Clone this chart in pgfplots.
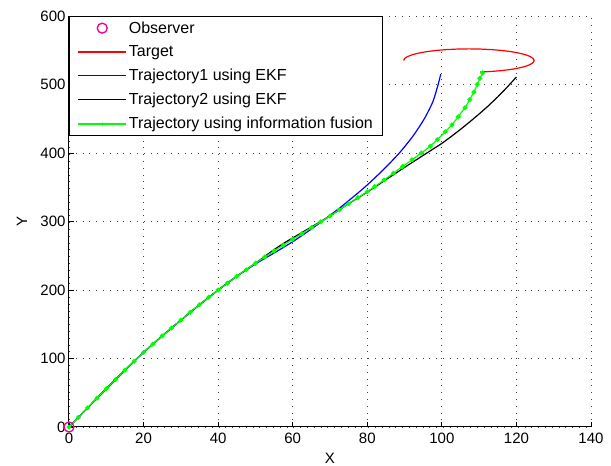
\documentclass[border=0pt]{standalone}
\usepackage{fontspec}
\setmainfont{Liberation Sans}
\usepackage{pgfplots}
\pgfplotsset{compat=1.18}

\begin{document}
\begin{tikzpicture}
\useasboundingbox (-69pt,-39pt) rectangle (542pt,427pt);
\begin{axis}[
    scale only axis,
    width=522pt, height=411pt,
    at={(0,0)}, anchor=south west,
    xmin=0, xmax=140, ymin=0, ymax=600,
    xtick={0,20,...,140}, ytick={0,100,...,600},
    axis x line=bottom, axis y line=left,
    axis line style={-, line width=1pt},
    tick align=inside, major tick length=5pt,
    tick style={black, line width=0.8pt},
    grid=major,
    major grid style={black!75, line width=0.8pt, dash pattern=on 0.8pt off 6pt},
    tick label style={font=\fontsize{15}{18}\selectfont},
    /pgf/number format/assume math mode=true,
    xticklabel style={yshift=-2.5pt},
    label style={font=\fontsize{15}{18}\selectfont},
    xlabel=X, ylabel=Y,
    xlabel style={at={(axis description cs:0.5,0)}, anchor=center, yshift=-31pt},
    ylabel style={at={(axis description cs:-0.09,0.5)}, anchor=center},
    clip=false,
    legend cell align=left,
    legend style={at={(0,1)}, anchor=north west, line width=1.2pt,
        font=\fontsize{16}{19}\selectfont, inner xsep=8pt, inner ysep=3pt,
        row sep=7pt},
]
% Observer
\addplot[only marks, mark=o, mark size=5pt, color=magenta, mark options={draw=magenta, line width=1.3pt},
  legend image code/.code={\path[draw=none] (0pt,0pt) -- (48pt,0pt); \draw[draw=magenta, line width=1.3pt] (24pt,0pt) circle (5pt);}]
  coordinates {(0,0)};
\addlegendentry{Observer}
% Target
\addplot[color=red, line width=1.2pt,
  legend image code/.code={\draw[draw=red, line width=1.3pt] (0pt,0pt) -- (48pt,0pt);}] coordinates {
 (110.29,518.26) (113.24,519.03) (116.00,520.28) (118.50,521.98) (120.66,524.07)
 (122.41,526.50) (123.69,529.19) (124.48,532.05) (124.75,535.00) (124.48,537.95)
 (123.69,540.81) (122.41,543.50) (120.66,545.93) (118.50,548.02) (116.00,549.72)
 (113.24,550.97) (110.29,551.74) (107.25,552.00) (104.21,551.74) (101.26,550.97)
 (98.50,549.72) (96.00,548.02) (93.84,545.93) (92.09,543.50) (90.81,540.81)
 (90.02,537.95) (89.75,535.00)};
\addlegendentry{Target}
% Trajectory1 (EKF)
\addplot[color=blue, line width=1.2pt, smooth, tension=0.4,
  legend image code/.code={\draw[draw=blue, line width=1.3pt] (0pt,0pt) -- (48pt,0pt);}] coordinates {
 (0,0) (5,28) (10,56) (15,83) (20,109) (25,133) (30,156) (35,178.5) (40,200)
 (45,220) (50,238) (55,254) (60,270.5) (65,289) (70,309)
 (73.8,325) (79.3,350) (84.2,375) (88.6,400) (92.3,425) (95.3,450)
 (97.6,475) (99.0,500) (99.7,515)};
\addlegendentry{Trajectory1 using EKF}
% Trajectory2 (EKF)
\addplot[color=black, line width=1.2pt,
  legend image code/.code={\draw[draw=black, line width=1.3pt] (0pt,0pt) -- (48pt,0pt);}] coordinates {
 (0,0) (5,28) (10,56) (15,83) (20,109) (25,133) (30,156) (35,178.5) (40,200)
 (45,220) (50,239) (52.5,249) (55,259) (57.5,268) (60,276) (62.5,284)
 (65,292) (67.5,300) (70,308) (72.5,317) (75,326) (77.5,334.5) (80,343)
 (85,361) (90,379) (95,396.5) (100,414) (102.5,424) (105,434.5) (107.5,445.5)
 (110,457) (112.5,469) (115,482) (117.5,496) (120,511)};
\addlegendentry{Trajectory2 using EKF}
% Fusion
\addplot[color=green, line width=1.2pt, mark=*, mark size=1.8pt, mark options={fill=green, draw=green},
  legend image code/.code={\draw[draw=green, line width=1.3pt] (0pt,0pt) -- (48pt,0pt); \fill[fill=green, draw=none] (24pt,0pt) circle (1.6pt);}] coordinates {
 (0,0) (2.5,14) (5,28) (7.5,42) (10,56) (12.5,69.5) (15,83) (17.5,96) (20,109)
 (22.5,121) (25,133) (27.5,144.5) (30,156) (32.5,167.5) (35,178.5) (37.5,189.5)
 (40,200) (42.5,210) (45,220) (47.5,229.5) (50,239) (52.5,248) (55,257)
 (57.5,265.5) (60,274) (62.5,282.5) (65,291) (67.5,299.5) (70,308) (72.5,317)
 (75,326) (77.5,335) (80,343.5) (82,351) (84.5,360.5) (87,370.5) (89.5,380.5)
 (92,390) (94.5,400) (96.9,410) (98.8,419.5) (100.9,431) (102.7,441) (104.4,453)
 (106.2,466) (107.5,478) (108.6,489) (109.5,500) (110.2,509) (110.9,517)};
\addlegendentry{Trajectory using information fusion}
\end{axis}
\end{tikzpicture}
\end{document}
